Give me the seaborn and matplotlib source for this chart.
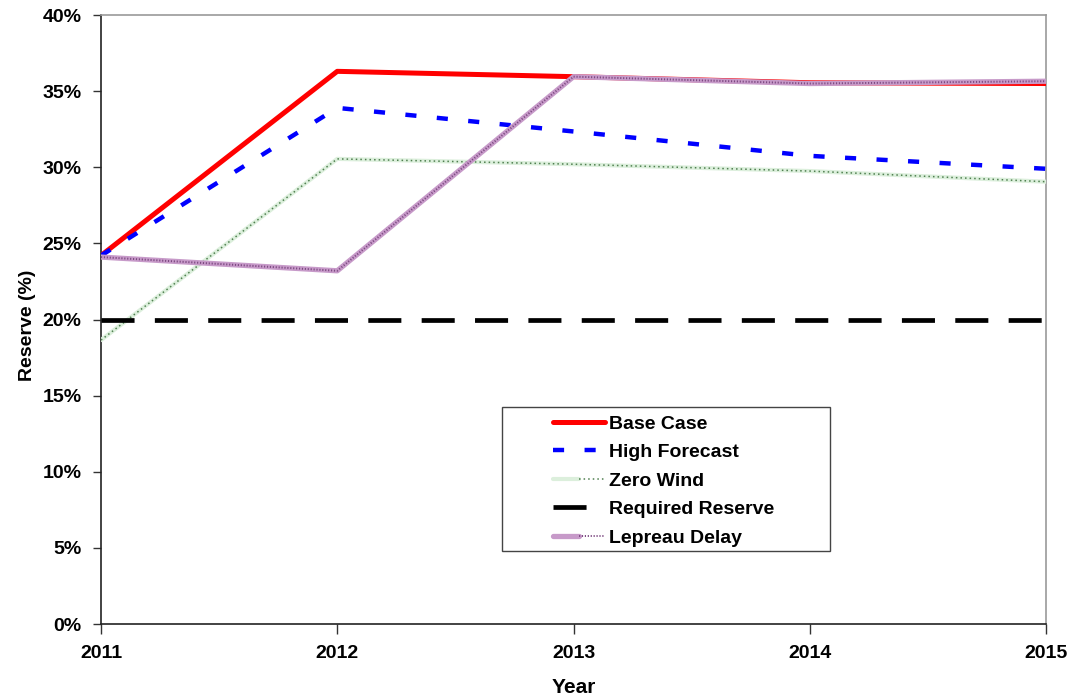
import matplotlib
matplotlib.use("Agg")
import matplotlib.pyplot as plt
from matplotlib.lines import Line2D
from matplotlib.legend_handler import HandlerTuple
from matplotlib.patches import Rectangle
from matplotlib.ticker import FuncFormatter
import seaborn as sns
import pandas as pd

sns.set_theme(style="white")
plt.rcParams["font.family"] = ["Liberation Sans", "DejaVu Sans"]
plt.rcParams["font.weight"] = "bold"

years = [2011, 2012, 2013, 2014, 2015]
base_case = [24.2, 36.3, 35.95, 35.55, 35.5]
high_forecast = [24.2, 33.9, 32.35, 30.75, 29.9]
zero_wind = [18.65, 30.55, 30.2, 29.75, 29.05]
required_reserve = [20.0, 20.0, 20.0, 20.0, 20.0]
lepreau_delay = [24.1, 23.2, 35.95, 35.5, 35.65]

df = pd.DataFrame({
    "Year": years,
    "Base Case": base_case,
    "High Forecast": high_forecast,
    "Zero Wind": zero_wind,
    "Required Reserve": required_reserve,
    "Lepreau Delay": lepreau_delay,
})

fig = plt.figure(figsize=(10.73, 6.98), dpi=100)
ax = fig.add_axes([0.0941, 0.106, 0.8808, 0.8725])

red = "#ff0000"
blue = "#0000ff"
green_light = "#dcefdc"
green_dark = "#4f7f4f"
purple_light = "#c79ac9"
purple_dark = "#7d4a82"

# Base case
sns.lineplot(data=df, x="Year", y="Base Case", ax=ax, color=red, lw=3.6,
             solid_capstyle="butt", zorder=3)
# High forecast
sns.lineplot(data=df, x="Year", y="High Forecast", ax=ax, color=blue, lw=3.2,
             zorder=3).lines[-1].set_dashes((2.5, 4.6))
# Zero wind: pale band with dark dots
sns.lineplot(data=df, x="Year", y="Zero Wind", ax=ax, color=green_light, lw=3.0,
             zorder=3)
zw = sns.lineplot(data=df, x="Year", y="Zero Wind", ax=ax, color=green_dark,
                  lw=1.1, zorder=3).lines[-1]
zw.set_dashes((1.0, 2.0))
# Required reserve
rr = sns.lineplot(data=df, x="Year", y="Required Reserve", ax=ax, color="black",
                  lw=3.4, zorder=4).lines[-1]
rr.set_dashes((7.0, 4.3))
rr.set_dash_capstyle("butt")
# Lepreau delay: hatched purple band
sns.lineplot(data=df, x="Year", y="Lepreau Delay", ax=ax, color=purple_light,
             lw=3.8, zorder=5)
ld = sns.lineplot(data=df, x="Year", y="Lepreau Delay", ax=ax, color=purple_dark,
                  lw=1.4, zorder=5).lines[-1]
ld.set_dashes((0.6, 0.9))

ax.set_xlim(2011, 2015)
ax.set_ylim(0, 40)
ax.set_xticks(years)
ax.set_xticklabels([str(y) for y in years])
ax.set_yticks(range(0, 41, 5))
ax.yaxis.set_major_formatter(FuncFormatter(lambda v, p: f"{int(v)}%"))

for lab in ax.get_xticklabels() + ax.get_yticklabels():
    lab.set_fontweight("bold")
    lab.set_fontsize(14)
    lab.set_color("black")

ax.tick_params(axis="x", direction="out", length=7, width=1, color="#333333",
               pad=8, bottom=True)
ax.tick_params(axis="y", direction="out", length=6, width=1, color="#333333",
               pad=8, left=True)

ax.set_xlabel("Year", fontsize=15, fontweight="bold", color="black")
ax.set_ylabel("Reserve (%)", fontsize=14, fontweight="bold", color="black")
ax.xaxis.set_label_coords(0.5, -0.088)
ax.yaxis.set_label_coords(-0.069, 0.49)

for side in ("left", "bottom"):
    ax.spines[side].set_color("#222222")
    ax.spines[side].set_linewidth(1.2)
for side in ("top", "right"):
    ax.spines[side].set_color("#999999")
    ax.spines[side].set_linewidth(1.2)

# Legend frame
ax.add_patch(Rectangle((0.4243, 0.120), 0.3471, 0.2365, transform=ax.transAxes,
                       facecolor="white", edgecolor="#444444", lw=1.0,
                       zorder=6))

handles = [
    Line2D([], [], color=red, lw=3.6),
    Line2D([], [], color=blue, lw=3.2, dashes=(2.5, 4.6)),
    (Line2D([], [], color=green_light, lw=3.0),
     Line2D([], [], color=green_dark, lw=1.1, dashes=(1.0, 2.0))),
    Line2D([], [], color="black", lw=3.4, dashes=(7.0, 4.3)),
    (Line2D([], [], color=purple_light, lw=3.8),
     Line2D([], [], color=purple_dark, lw=1.4, dashes=(0.6, 0.9))),
]
labels = ["Base Case", "High Forecast", "Zero Wind", "Required Reserve",
          "Lepreau Delay"]
leg = ax.legend(handles, labels, loc="upper left",
                bbox_to_anchor=(0.478, 0.343), frameon=False,
                handler_map={tuple: HandlerTuple(ndivide=None, pad=0)},
                prop={"weight": "bold", "size": 14},
                handlelength=2.7, handletextpad=0.2, labelspacing=0.56,
                borderpad=0.0, borderaxespad=0.0)
leg.set_zorder(7)
for t in leg.get_texts():
    t.set_color("black")

fig.savefig("out.png", dpi=100, facecolor="white")
